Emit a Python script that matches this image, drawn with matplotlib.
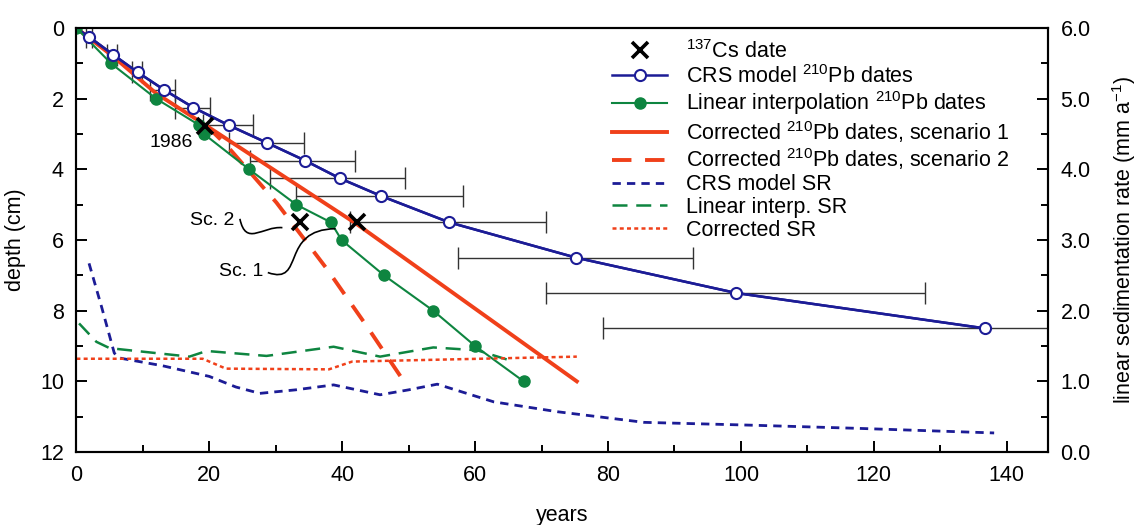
"""
Depth-age plot: 210Pb dates, 137Cs marker and sedimentation rates
"""
import matplotlib
matplotlib.use("Agg")
import matplotlib.pyplot as plt
from matplotlib.path import Path
from matplotlib.patches import PathPatch

plt.rcParams['font.family'] = ['Liberation Sans', 'DejaVu Sans']
plt.rcParams['mathtext.fontset'] = 'custom'
plt.rcParams['mathtext.rm'] = 'Liberation Sans'
plt.rcParams['mathtext.it'] = 'Liberation Sans'

# CRS model 210Pb dates
crs_depth = [0.25, 0.75, 1.25, 1.75, 2.25, 2.75, 3.25, 3.75, 4.25, 4.75, 5.5, 6.5, 7.5, 8.5]
crs_year = [1.9, 5.5, 9.2, 13.2, 17.6, 22.9, 28.7, 34.4, 39.6, 45.8, 56.1, 75.2, 99.3, 136.7]
crs_lo = [1.5, 4.6, 8.3, 11.0, 14.8, 19.0, 23.0, 26.1, 29.2, 33.0, 41.2, 57.4, 70.7, 79.3]
crs_hi = [2.3, 6.1, 9.9, 14.8, 20.1, 26.5, 34.2, 41.9, 49.5, 58.1, 70.7, 92.8, 127.7, 194.0]

# linear interpolation 210Pb dates
lin_depth = [0, 1, 2, 2.75, 3, 4, 5, 5.5, 6, 7, 8, 9, 10]
lin_year = [0, 5.2, 12.0, 18.5, 19.2, 26.0, 33.1, 38.3, 39.9, 46.3, 53.7, 60.0, 67.3]

# corrected dates
sc1_year = [0, 5.5, 12.0, 19.6, 42.2, 75.3]
sc1_depth = [0, 0.8, 1.85, 2.77, 5.55, 10.0]
sc2_year = [19.6, 22.5, 30.1, 37.7, 43.7, 49.1]
sc2_depth = [2.77, 3.3, 4.94, 6.82, 8.44, 9.95]

# 137Cs dates
cs_year = [19.4, 33.6, 42.2]
cs_depth = [2.77, 5.5, 5.5]

# sedimentation rates (mm/a)
crs_sr_year = [1.9, 3.8, 5.7, 6.5, 13, 20, 24, 27.6, 33, 38.7, 45.7, 50, 54.3, 62.8, 72.4, 85.4, 101.5, 117.6, 138.1]
crs_sr = [2.67, 2.05, 1.40, 1.33, 1.22, 1.07, 0.92, 0.83, 0.88, 0.95, 0.81, 0.88, 0.96, 0.71, 0.57, 0.42, 0.38, 0.335, 0.27]
lin_sr_year = [0.4, 3.0, 5.0, 12, 17.0, 19.6, 28.6, 38.7, 45.7, 53.7, 60.3, 65.8]
lin_sr = [1.82, 1.56, 1.47, 1.40, 1.35, 1.43, 1.36, 1.49, 1.35, 1.48, 1.44, 1.28]
cor_sr_year = [0, 19.0, 22.5, 38.0, 41.5, 75.3]
cor_sr = [1.32, 1.32, 1.18, 1.17, 1.28, 1.35]

blue = '#1c1c96'
green = '#0e8540'
red = '#f0401a'

fig = plt.figure(figsize=(11.37, 5.25), dpi=100)
ax = fig.add_axes([0.0672, 0.139, 0.8545, 0.8076])
ax2 = ax.twinx()

xerr = [[c - l for c, l in zip(crs_year, crs_lo)], [h - c for c, h in zip(crs_year, crs_hi)]]
ax.errorbar(crs_year, crs_depth, xerr=xerr, fmt='none', ecolor='#333333',
            elinewidth=1, capsize=8, capthick=1, zorder=1)

ax.plot([0] + crs_year, [0] + crs_depth, '-', color=blue, lw=1.8, zorder=3)
h_crs, = ax.plot(crs_year, crs_depth, 'o', color=blue, mfc='white', mec=blue,
                 ms=8, mew=1.5, ls='-', lw=1.8, zorder=4, label='CRS model $^{210}$Pb dates')
h_lin, = ax.plot(lin_year, lin_depth, 'o-', color=green, ms=8, lw=1.5, zorder=3,
                 label='Linear interpolation $^{210}$Pb dates')
h_sc1, = ax.plot(sc1_year, sc1_depth, '-', color=red, lw=2.8, zorder=2,
                 label='Corrected $^{210}$Pb dates, scenario 1')
h_sc2, = ax.plot(sc2_year, sc2_depth, '--', color=red, lw=2.8, dashes=(5, 3.5), zorder=2,
                 label='Corrected $^{210}$Pb dates, scenario 2')
h_cs, = ax.plot(cs_year, cs_depth, 'x', color='black', ms=12, mew=2.6, zorder=5,
                label='$^{137}$Cs date')

h_crs_sr, = ax2.plot(crs_sr_year, crs_sr, '--', color=blue, lw=2, dashes=(3, 2.2),
                     label='CRS model SR')
h_lin_sr, = ax2.plot(lin_sr_year, lin_sr, '--', color=green, lw=1.8, dashes=(6, 3.5),
                     label='Linear interp. SR')
h_cor_sr, = ax2.plot(cor_sr_year, cor_sr, '--', color=red, lw=1.8, dashes=(1.6, 1.3),
                     label='Corrected SR')

# labels for the Cs dates
ax.text(17.6, 3.25, '1986', fontsize=14, ha='right', va='center')
ax.text(23.8, 5.45, 'Sc. 2', fontsize=14, ha='right', va='center')
ax.text(28.2, 6.9, 'Sc. 1', fontsize=14, ha='right', va='center')
p2 = Path([(24.6, 5.4), (25.5, 6.2), (28.0, 5.6), (31.0, 5.65)],
          [Path.MOVETO, Path.CURVE4, Path.CURVE4, Path.CURVE4])
ax.add_patch(PathPatch(p2, fill=False, color='black', lw=1.2, zorder=5))
p1 = Path([(28.8, 6.92), (34.5, 7.3), (30.5, 5.7), (39.0, 5.68)],
          [Path.MOVETO, Path.CURVE4, Path.CURVE4, Path.CURVE4])
ax.add_patch(PathPatch(p1, fill=False, color='black', lw=1.2, zorder=5))

ax.set_xlim(0, 146.2)
ax.set_ylim(12, 0)
ax2.set_ylim(0, 6)
ax.set_xticks(range(0, 141, 20))
ax.set_xticks(range(10, 141, 20), minor=True)
ax.set_yticks(range(0, 13, 2))
ax.set_yticks(range(1, 12, 2), minor=True)
ax2.set_yticks([0, 1, 2, 3, 4, 5, 6])
ax2.set_yticklabels(['0.0', '1.0', '2.0', '3.0', '4.0', '5.0', '6.0'])
ax2.set_yticks([0.5, 1.5, 2.5, 3.5, 4.5, 5.5], minor=True)

for a in (ax, ax2):
    a.tick_params(which='major', direction='in', length=8, width=1.4, labelsize=15.5, pad=9)
    a.tick_params(which='minor', direction='in', length=5, width=1.4)
    for s in a.spines.values():
        s.set_linewidth(1.5)
ax.tick_params(top=False, right=False)

ax.set_xlabel('years', fontsize=15.5, labelpad=14)
ax.set_ylabel('depth (cm)', fontsize=15.5, labelpad=10)
ax2.set_ylabel('linear sedimentation rate (mm a$^{-1}$)', fontsize=15.5, labelpad=14)

handles = [h_cs, h_crs, h_lin, h_sc1, h_sc2, h_crs_sr, h_lin_sr, h_cor_sr]
ax2.legend(handles=handles, loc='upper left', bbox_to_anchor=(0.531, 0.94),
           bbox_transform=fig.transFigure, frameon=False, fontsize=15.5,
           handlelength=2.56, labelspacing=0.08, handletextpad=0.85, borderaxespad=0)

fig.savefig('out.png', dpi=100)
